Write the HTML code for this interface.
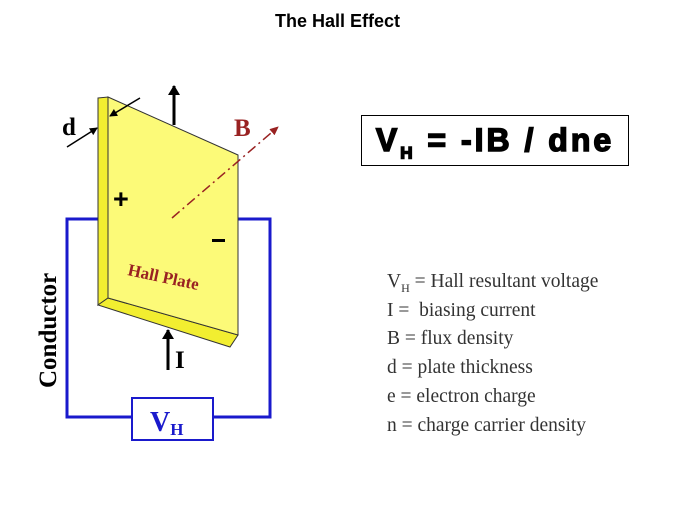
<!DOCTYPE html>
<html><head><style>
body{margin:0;background:#fff;width:675px;height:506px;overflow:hidden;position:relative;font-family:"Liberation Sans",sans-serif}
.t{position:absolute;left:0;width:675px;top:11px;text-align:center;font-weight:bold;font-size:18px}
.f{position:absolute;left:361px;top:115px;width:266px;height:49px;border:1px solid #000;font-weight:bold;font-size:32px;text-align:center;line-height:49px;letter-spacing:3px;-webkit-text-stroke:1.5px #000}
.l{position:absolute;left:387px;font-family:"Liberation Serif",serif;font-size:19.5px;color:#333}
</style></head><body>
<div class="t">The Hall Effect</div>
<div class="f">V<sub style="font-size:17px">H</sub> = -IB / dne</div>
<div class="l" style="top:271px">V<sub style="font-size:12px">H</sub> = Hall resultant voltage</div>
<div class="l" style="top:300px">I =&nbsp; biasing current</div>
<div class="l" style="top:328px">B = flux density</div>
<div class="l" style="top:357px">d = plate thickness</div>
<div class="l" style="top:386px">e = electron charge</div>
<div class="l" style="top:415px">n = charge carrier density</div>
<svg width="675" height="506" style="position:absolute;left:0;top:0">
<defs><marker id="a" markerWidth="10" markerHeight="12" refX="9" refY="6" orient="auto" markerUnits="userSpaceOnUse"><path d="M0,0L10,6L0,12z" fill="#000"/></marker>
<marker id="s" markerWidth="8" markerHeight="8" refX="7" refY="4" orient="auto" markerUnits="userSpaceOnUse"><path d="M0,0L8,4L0,8z" fill="#000"/></marker>
<marker id="r" markerWidth="9" markerHeight="8" refX="8" refY="4" orient="auto" markerUnits="userSpaceOnUse"><path d="M0,0L9,4L0,8z" fill="#992222"/></marker></defs>
<polyline points="98,219 67,219 67,417 132,417" fill="none" stroke="#1a1acc" stroke-width="3"/>
<polyline points="238,219 270,219 270,417 213,417" fill="none" stroke="#1a1acc" stroke-width="3"/>
<rect x="132" y="398" width="81" height="42" fill="#fff" stroke="#1a1acc" stroke-width="2"/>
<text x="150" y="431" font-family="Liberation Serif" font-weight="bold" font-size="28" fill="#1a1acc">V<tspan font-size="17" dy="4">H</tspan></text>
<polygon points="98,98 108,97 108,298 98,305" fill="#f2ee30" stroke="#333" stroke-width="1"/>
<polygon points="98,305 108,298 238,335 230,347" fill="#f2ee30" stroke="#333" stroke-width="1"/>
<polygon points="108,97 238,155 238,335 108,298" fill="#fcfa78" stroke="#333" stroke-width="1"/>
<line x1="174" y1="125" x2="174" y2="86" stroke="#000" stroke-width="3" marker-end="url(#a)"/>
<line x1="168" y1="370" x2="168" y2="330" stroke="#000" stroke-width="3" marker-end="url(#a)"/>
<line x1="140" y1="98" x2="110" y2="116" stroke="#000" stroke-width="1.5" marker-end="url(#s)"/>
<line x1="67" y1="147" x2="97" y2="128" stroke="#000" stroke-width="1.5" marker-end="url(#s)"/>
<line x1="172" y1="218" x2="278" y2="127" stroke="#992222" stroke-width="1.5" stroke-dasharray="10,4,2,4" marker-end="url(#r)"/>
<text x="62" y="135" font-family="Liberation Serif" font-weight="bold" font-size="25">d</text>
<text x="234" y="136" font-family="Liberation Serif" font-weight="bold" font-size="25" fill="#992222">B</text>
<text x="113" y="208" font-family="Liberation Sans" font-weight="bold" font-size="27">+</text>
<rect x="212" y="239" width="13" height="3" fill="#000"/>
<text x="175" y="368" font-family="Liberation Serif" font-weight="bold" font-size="25">I</text>
<text transform="translate(127,275) rotate(12)" font-family="Liberation Serif" font-weight="bold" font-size="17" fill="#992222">Hall Plate</text>
<text transform="translate(56,388) rotate(-90)" font-family="Liberation Serif" font-weight="bold" font-size="25">Conductor</text>
</svg>
</body></html>
